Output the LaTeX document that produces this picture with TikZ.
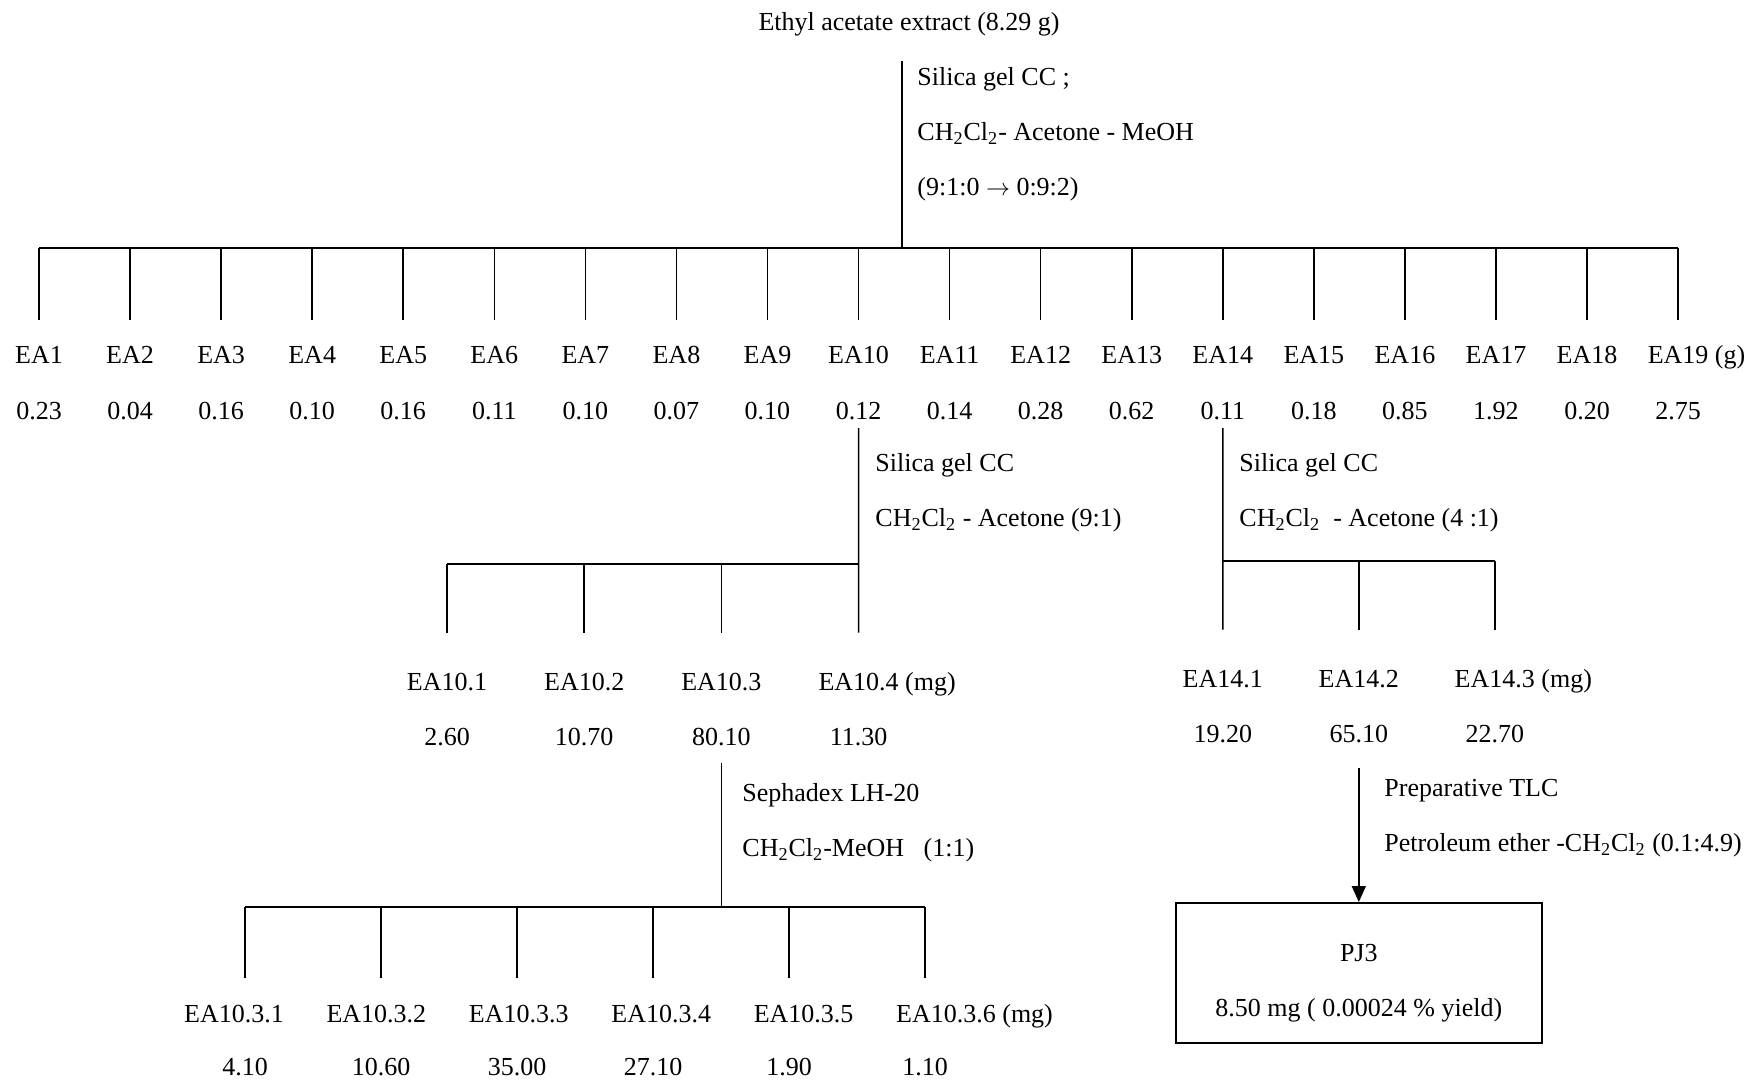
\documentclass[tikz,border=0pt]{standalone}
\usepackage{fontspec}
\setmainfont{Liberation Serif}
\usepackage{tikz}
\usetikzlibrary{arrows.meta,positioning}

\begin{document}
\begin{tikzpicture}[
  x=0.5pt, y=-0.5pt,
  font=\fontsize{13pt}{15pt}\selectfont,
  >={Triangle[length=8pt,width=7pt]},
  frac/.style={inner sep=0pt, text height=9pt, text depth=3pt},
  cond/.style={anchor=west, align=left, inner sep=0pt},
  bar/.style={line width=1.4pt},
  tick/.style={line width=0.8pt},
  yieldbox/.style={draw, line width=1pt, minimum width=183pt, minimum height=70pt, align=center, inner sep=0pt},
]
\useasboundingbox (0,0) rectangle (1754,1082);

\node[frac] (extract) at (909,24) {Ethyl acetate extract (8.29 g)};
\coordinate (j0) at (902,248);
\draw[tick, shorten <=12.5pt] (extract.south -| j0) -- (j0);
\node[cond] (cc0) at (917,134) {Silica gel CC ;\\[12.5pt] CH\textsubscript{2}Cl\textsubscript{2}- Acetone - MeOH\\[12.5pt] (9:1:0 $\rightarrow$ 0:9:2)};

\foreach \w [count=\i] in {0.23,0.04,0.16,0.10,0.16,0.11,0.10,0.07,0.10,0.12,0.14,0.28,0.62,0.11,0.18,0.85,1.92,0.20,2.75}{
  \coordinate (t\i) at ({39+91.06*(\i-1)},248);
  \node[frac] (ea\i) at ({39+91.06*(\i-1)},357) {EA\i\ifnum\i=19\rlap{ (g)}\fi};
  \node[frac, below=16pt of ea\i] (w\i) {\w};
  \draw[tick, shorten >=12.5pt] (t\i) -- (ea\i.north);
}
\draw[bar] (t1) -- (t19);

\foreach \w [count=\i] in {2.60,10.70,80.10,11.30}{
  \node[frac] (ea10n\i) at ({447+137.2*(\i-1)},684) {EA10.\i\ifnum\i=4\rlap{ (mg)}\fi};
  \node[frac, below=15.5pt of ea10n\i] (w10n\i) {\w};
}
\coordinate (j10) at (w10 |- 0,564);
\draw[tick, shorten <=1pt, shorten >=19.5pt] (w10.south) -- (ea10n4.north);
\draw[bar] (ea10n1.north |- j10) -- (j10);
\foreach \i in {1,2,3}
  \draw[tick, shorten >=19.5pt] (ea10n\i.north |- j10) -- (ea10n\i.north);
\node[cond] (cc10) at (875,493) {Silica gel CC\\[12.5pt] CH\textsubscript{2}Cl\textsubscript{2} - Acetone (9:1)};

\foreach \w [count=\i] in {19.20,65.10,22.70}{
  \node[frac] (ea14n\i) at ({1222.8+136*(\i-1)},681) {EA14.\i\ifnum\i=3\rlap{ (mg)}\fi};
  \node[frac, below=15.5pt of ea14n\i] (w14n\i) {\w};
}
\coordinate (j14) at (w14 |- 0,561);
\draw[tick, shorten <=1pt, shorten >=19.5pt] (w14.south) -- (ea14n1.north);
\draw[bar] (j14) -- (ea14n3.north |- j14);
\foreach \i in {2,3}
  \draw[tick, shorten >=19.5pt] (ea14n\i.north |- j14) -- (ea14n\i.north);
\node[cond] (cc14) at (1239,493) {Silica gel CC\\[12.5pt] CH\textsubscript{2}Cl\textsubscript{2}\ \ - Acetone (4 :1)};

\foreach \w [count=\i] in {4.10,10.60,35.00,27.10,1.90,1.10}{
  \coordinate (s\i) at ({245+136*(\i-1)},907);
  \node[frac] (ea103n\i) at ({234+142.4*(\i-1)},1016) {EA10.3.\i\ifnum\i=6\rlap{ (mg)}\fi};
  \node[frac] (w103n\i) at (s\i |- 0,1069) {\w};
  \draw[tick, shorten >=13pt] (s\i) -- (s\i |- ea103n\i.north);
}
\coordinate (j103) at (w10n3 |- s1);
\draw[tick, shorten <=5.5pt] (w10n3.south) -- (j103);
\draw[bar] (s1) -- (s6);
\node[cond] (cc103) at (742,823) {Sephadex LH-20\\[12.5pt] CH\textsubscript{2}Cl\textsubscript{2}-MeOH\ \ \ (1:1)};

\node[yieldbox] (pj3) at (w14n2 |- 0,973) {\rule{0pt}{19pt}PJ3\\[12.5pt] 8.50 mg ( 0.00024 \% yield)};
\draw[tick, ->, shorten <=9.5pt] (w14n2.south) -- (pj3.north);
\node[cond] (cctlc) at (1384,818) {Preparative TLC\\[12.5pt] Petroleum ether -CH\textsubscript{2}Cl\textsubscript{2} (0.1:4.9)};
\end{tikzpicture}
\end{document}
